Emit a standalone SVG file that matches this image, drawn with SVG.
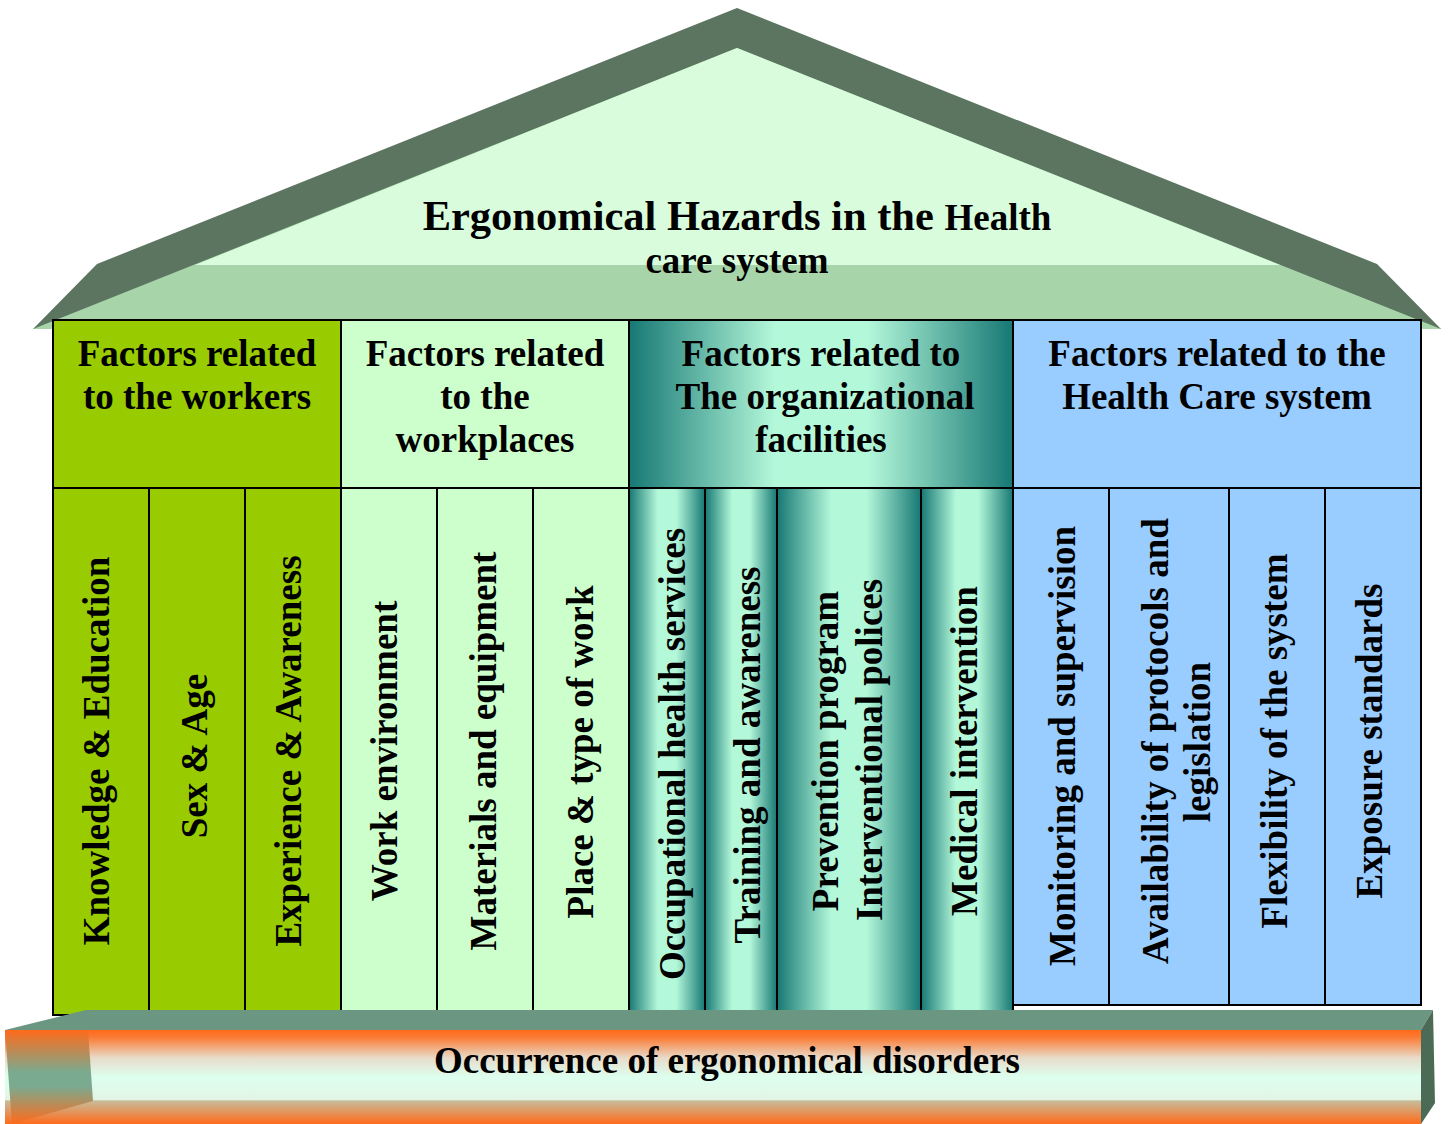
<svg xmlns="http://www.w3.org/2000/svg" width="1448" height="1124" viewBox="0 0 1448 1124">
  <defs>
    <linearGradient id="teal" x1="0" y1="0" x2="1" y2="0">
      <stop offset="0" stop-color="#167874"/>
      <stop offset="0.38" stop-color="#B4F8DA"/>
      <stop offset="0.62" stop-color="#B4F8DA"/>
      <stop offset="1" stop-color="#167874"/>
    </linearGradient>
    <linearGradient id="baseFront" x1="0" y1="0" x2="0" y2="1">
      <stop offset="0" stop-color="#FF6A1A"/>
      <stop offset="0.08" stop-color="#FA7C36"/>
      <stop offset="0.3" stop-color="#E8DCCB"/>
      <stop offset="0.5" stop-color="#DDFFEE"/>
      <stop offset="0.74" stop-color="#E3F5E5"/>
      <stop offset="0.755" stop-color="#C8BC9A"/>
      <stop offset="1" stop-color="#FF6A1A"/>
    </linearGradient>
    <linearGradient id="baseEnd" x1="0" y1="0" x2="0" y2="1">
      <stop offset="0" stop-color="#FF6A1A"/>
      <stop offset="0.45" stop-color="#7AAA90"/>
      <stop offset="0.6" stop-color="#7AAA90"/>
      <stop offset="1" stop-color="#FF6A1A"/>
    </linearGradient>
  </defs>
  <style>
    .t { font-family: "Liberation Serif", "Times New Roman", serif; font-weight: bold; fill: #000; text-anchor: middle; }
    .h { font-size: 37px; }
    .v { font-size: 37px; }
    .box { stroke: #000; stroke-width: 2; }
    .s1 { fill: #99CC00; }
    .s2 { fill: #CCFFCC; }
    .s3 { fill: url(#teal); }
    .s4 { fill: #99CCFF; }
  </style>

  <!-- roof -->
  <g id="roof">
    <polygon points="737,8 1377,264 1441,329 33,329 97,264" fill="#5B7560"/>
    <polygon points="33,329 737,48 1441,329" fill="#A8D4AA"/>
    <polygon points="737,48 195,265 1280,265" fill="#D9FDDC"/>
    <text class="t" x="737" y="230"><tspan font-size="42.5">Ergonomical Hazards in the </tspan><tspan font-size="37">Health</tspan></text>
    <text class="t h" x="737" y="273">care system</text>
  </g>

  <!-- pillar group 1: workers -->
  <g id="workers">
    <rect class="box s1" x="53" y="320" width="288" height="168"/>
    <text class="t h" x="197" y="366">Factors related</text>
    <text class="t h" x="197" y="409">to the workers</text>
  </g>
  <g id="knowledge-education">
    <rect class="box s1" x="53" y="488" width="96" height="527"/>
    <text class="t v" transform="translate(109,751) rotate(-90)">Knowledge &amp; Education</text>
  </g>
  <g id="sex-age">
    <rect class="box s1" x="149" y="488" width="96" height="527"/>
    <text class="t v" transform="translate(207,756) rotate(-90)">Sex &amp; Age</text>
  </g>
  <g id="experience-awareness">
    <rect class="box s1" x="245" y="488" width="96" height="527"/>
    <text class="t v" transform="translate(301,751) rotate(-90)">Experience &amp; Awareness</text>
  </g>

  <!-- pillar group 2: workplaces -->
  <g id="workplaces">
    <rect class="box s2" x="341" y="320" width="288" height="168"/>
    <text class="t h" x="485" y="366">Factors related</text>
    <text class="t h" x="485" y="409">to the</text>
    <text class="t h" x="485" y="452">workplaces</text>
  </g>
  <g id="work-environment">
    <rect class="box s2" x="341" y="488" width="96" height="527"/>
    <text class="t v" transform="translate(397,751) rotate(-90)">Work environment</text>
  </g>
  <g id="materials-equipment">
    <rect class="box s2" x="437" y="488" width="96" height="527"/>
    <text class="t v" transform="translate(496,751) rotate(-90)">Materials and equipment</text>
  </g>
  <g id="place-type">
    <rect class="box s2" x="533" y="488" width="96" height="527"/>
    <text class="t v" transform="translate(593,752) rotate(-90)">Place &amp; type of work</text>
  </g>

  <!-- pillar group 3: organizational facilities -->
  <g id="organizational">
    <rect class="box s3" x="629" y="320" width="384" height="168"/>
    <text class="t h" x="821" y="366">Factors related to</text>
    <text class="t h" x="825" y="409">The organizational</text>
    <text class="t h" x="821" y="452">facilities</text>
  </g>
  <g id="occupational-health">
    <rect class="box s3" x="629" y="488" width="76" height="527"/>
    <text class="t v" transform="translate(685,754) rotate(-90)">Occupational health services</text>
  </g>
  <g id="training-awareness">
    <rect class="box s3" x="705" y="488" width="72" height="527"/>
    <text class="t v" transform="translate(760,755) rotate(-90)">Training and awareness</text>
  </g>
  <g id="prevention-program">
    <rect class="box s3" x="777" y="488" width="144" height="527"/>
    <text class="t v" transform="translate(838,751) rotate(-90)">Prevention program</text>
    <text class="t v" transform="translate(882,750) rotate(-90)">Interventional polices</text>
  </g>
  <g id="medical-intervention">
    <rect class="box s3" x="921" y="488" width="92" height="527"/>
    <text class="t v" transform="translate(977,751) rotate(-90)">Medical intervention</text>
  </g>

  <!-- pillar group 4: health care system -->
  <g id="health-care-system">
    <rect class="box s4" x="1013" y="320" width="408" height="168"/>
    <text class="t h" x="1217" y="366">Factors related to the</text>
    <text class="t h" x="1217" y="409">Health Care system</text>
  </g>
  <g id="monitoring">
    <rect class="box s4" x="1013" y="488" width="96" height="517"/>
    <text class="t v" transform="translate(1075,746) rotate(-90)">Monitoring and supervision</text>
  </g>
  <g id="protocols">
    <rect class="box s4" x="1109" y="488" width="120" height="517"/>
    <text class="t v" transform="translate(1168,741) rotate(-90)">Availability of protocols and</text>
    <text class="t v" transform="translate(1210,742) rotate(-90)">legislation</text>
  </g>
  <g id="flexibility">
    <rect class="box s4" x="1229" y="488" width="96" height="517"/>
    <text class="t v" transform="translate(1287,741) rotate(-90)">Flexibility of the system</text>
  </g>
  <g id="exposure">
    <rect class="box s4" x="1325" y="488" width="96" height="517"/>
    <text class="t v" transform="translate(1382,741) rotate(-90)">Exposure standards</text>
  </g>

  <!-- foundation slab -->
  <g id="foundation">
    <polygon points="5,1030 86,1010 1433,1010 1421,1030" fill="#6A9682"/>
    <polygon points="1421,1030 1433,1010 1435,1103 1421,1124" fill="#4B6B57"/>
    <rect x="5" y="1030" width="1416" height="94" fill="url(#baseFront)"/>
    <polygon points="5,1030 88,1030 93,1101 12,1124" fill="url(#baseEnd)"/>
    <text class="t h" x="727" y="1073">Occurrence of ergonomical disorders</text>
  </g>

  <g id="connectors"/>
</svg>
